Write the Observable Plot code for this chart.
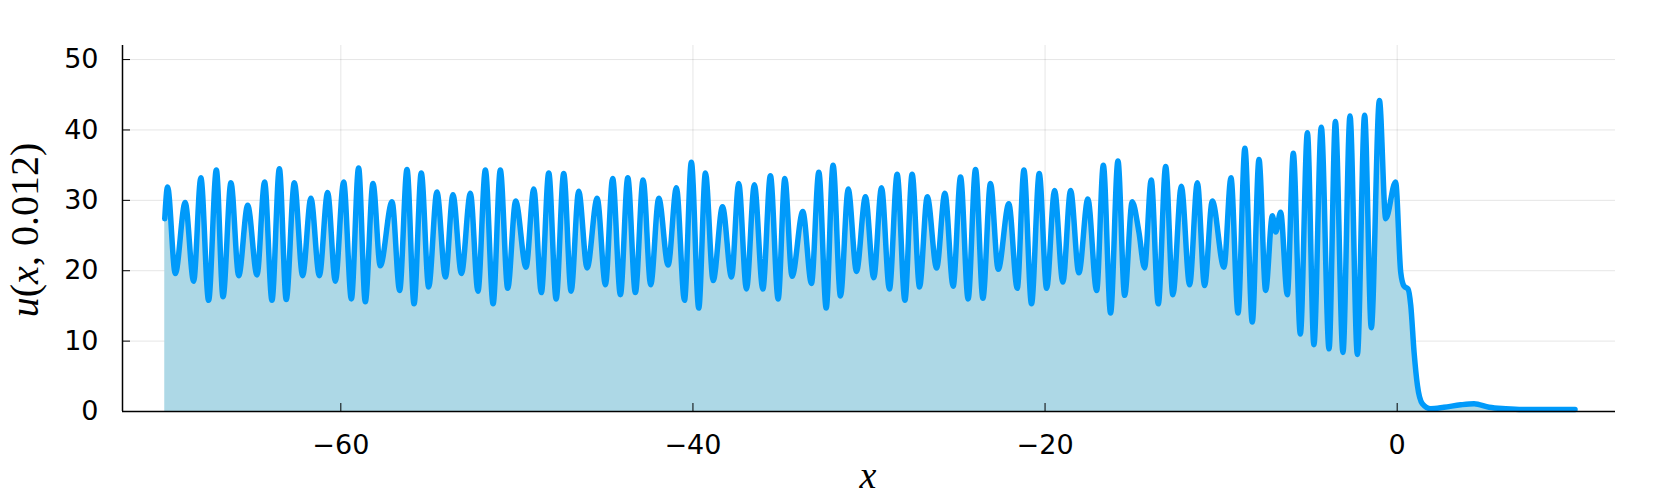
<!DOCTYPE html>
<html><head><meta charset="utf-8">
<script src="https://cdn.jsdelivr.net/npm/d3@7"></script>
<script src="https://cdn.jsdelivr.net/npm/@observablehq/plot@0.6"></script>
<style>body{margin:0;background:#fff} svg{display:block}</style>
</head><body><div id="chart"></div>
<script>
const xs = [-70.00,-69.84,-69.40,-68.84,-68.36,-67.95,-67.51,-67.07,-66.69,-66.24,-65.80,-65.29,-64.76,-64.33,-63.91,-63.49,-63.10,-62.64,
-62.17,-61.70,-61.22,-60.75,-60.31,-59.84,-59.40,-58.99,-58.61,-58.17,-57.76,-57.09,-56.66,-56.24,-55.84,-55.43,-55.01,-54.54,
-54.06,-53.63,-53.15,-52.64,-52.21,-51.79,-51.35,-50.94,-50.52,-50.07,-49.48,-49.04,-48.61,-48.19,-47.77,-47.34,-46.92,-46.49,-46.01,
-45.44,-44.97,-44.56,-44.12,-43.70,-43.27,-42.83,-42.40,-41.94,-41.41,-40.94,-40.48,-40.09,-39.67,-39.29,-38.85,-38.32,-37.81,
-37.40,-36.96,-36.51,-36.03,-35.60,-35.16,-34.78,-34.37,-33.76,-33.27,-32.85,-32.43,-32.04,-31.62,-31.18,-30.71,-30.20,-29.73,
-29.29,-28.84,-28.40,-27.96,-27.55,-27.13,-26.69,-26.16,-25.69,-25.22,-24.80,-24.37,-23.95,-23.53,-23.10,-22.66,-22.06,-21.58,-21.20,
-20.77,-20.33,-19.91,-19.46,-18.99,-18.55,-18.08,-17.57,-17.07,-16.69,-16.28,-15.86,-15.48,-15.05,-14.67,-14.35,-13.97,-13.57,-13.15,
-12.74,-12.26,-11.79,-11.35,-10.94,-10.50,-9.84,-9.44,-9.04,-8.65,-8.23,-7.85,-7.47,-7.09,-6.90,-6.62,-6.24,-5.90,-5.50,-5.10,-4.73,
-4.31,-3.87,-3.51,-3.08,-2.68,-2.26,-1.85,-1.47,-1.01,-0.65,-0.09,0.20,0.39,0.62,0.77,0.96,1.15,1.43,1.90,2.66,3.61,
4.37,5.22,6.16,7.11,10.10];
const us = [27.4,31.9,19.6,29.7,18.5,33.2,15.8,34.3,16.3,32.5,19.3,29.3,19.4,32.6,15.8,34.5,15.9,32.5,
19.3,30.3,19.3,31.1,18.5,32.6,16.0,34.6,15.6,32.4,20.7,29.8,17.2,34.4,15.3,33.9,17.7,31.2,
19.1,30.8,19.6,31.0,17.1,34.3,15.3,34.3,17.5,29.9,20.5,31.6,16.9,33.9,16.0,33.8,17.1,31.3,20.4,
30.3,18.0,33.1,16.6,33.2,16.9,32.9,18.0,30.3,20.8,31.8,15.8,35.4,14.7,33.9,18.6,29.1,19.1,
32.4,17.4,32.2,17.4,33.5,16.0,33.1,19.2,28.4,18.2,34.0,14.7,35.0,16.4,31.6,19.9,30.5,19.0,
31.8,17.4,33.7,15.8,33.7,17.7,30.5,20.4,31.0,17.8,33.3,16.0,34.4,16.1,32.4,20.2,29.5,17.5,34.3,
15.3,33.8,17.5,31.4,18.4,31.4,19.7,30.2,17.2,35.0,14.0,35.6,16.5,29.8,25.5,20.4,32.9,15.3,34.8,
16.6,32.0,18.0,32.5,17.9,29.9,20.5,33.2,14.0,37.4,12.7,35.8,17.2,27.8,25.5,28.3,16.6,36.7,11.0,39.6,9.5,
40.4,8.9,41.2,8.4,42.0,8.1,42.1,11.9,44.2,27.4,32.6,19.8,17.8,17.4,15.1,8.4,3.7,1.1,0.4,0.6,0.95,
1.1,0.6,0.4,0.3,0.3];
const xTicks = [-60, -40, -20, 0];
const yTicks = [0, 10, 20, 30, 40, 50];
const xDomain = [-72.4, 12.4];
const yDomain = [0, 52];
const data = xs.map((x, i) => ({x, u: us[i]}));

const chart = Plot.plot({
  width: 1661, height: 498,
  marginLeft: 122, marginRight: 46, marginTop: 45, marginBottom: 87,
  style: {fontFamily: "DejaVu Sans", fontSize: "27px", color: "#000", background: "#fff", overflow: "visible"},
  x: {domain: xDomain, ticks: xTicks, label: null},
  y: {domain: yDomain, ticks: yTicks, label: null},
  marks: [
    Plot.gridX(xTicks, {stroke: "#000", strokeOpacity: 0.1, strokeWidth: 1}),
    Plot.gridY(yTicks, {stroke: "#000", strokeOpacity: 0.1, strokeWidth: 1}),
    Plot.areaY(data, {x: "x", y: "u", fill: "#add8e6", curve: "monotone-x"}),
    Plot.line(data, {x: "x", y: "u", stroke: "#009afa", strokeWidth: 5.5, curve: "monotone-x"}),
    Plot.ruleX([xDomain[0]], {stroke: "#000", strokeWidth: 1.5}),
    Plot.ruleY([yDomain[0]], {stroke: "#000", strokeWidth: 1.5}),
    Plot.axisX(xTicks, {tickSize: -8, tickPadding: 31, tickFormat: d => d < 0 ? "\u2212" + Math.abs(d) : String(d)}),
    Plot.axisY(yTicks, {tickSize: -8, tickPadding: 32})
  ]
});
document.getElementById("chart").appendChild(chart);

const svg = d3.select(chart);
const yl = svg.append("text")
  .attr("transform", "translate(24,230) rotate(-90)")
  .attr("text-anchor", "middle").attr("dominant-baseline", "central")
  .attr("font-family", "Liberation Serif").attr("font-size", 40).attr("fill", "#000");
yl.append("tspan").attr("font-style", "italic").text("u");
yl.append("tspan").text("(");
yl.append("tspan").attr("font-style", "italic").text("x");
yl.append("tspan").text(", 0.012)");
svg.append("text")
  .attr("x", 868).attr("y", 488)
  .attr("text-anchor", "middle")
  .attr("font-family", "Liberation Serif").attr("font-style", "italic").attr("font-size", 38).attr("fill", "#000")
  .text("x");
</script>
</body></html>
